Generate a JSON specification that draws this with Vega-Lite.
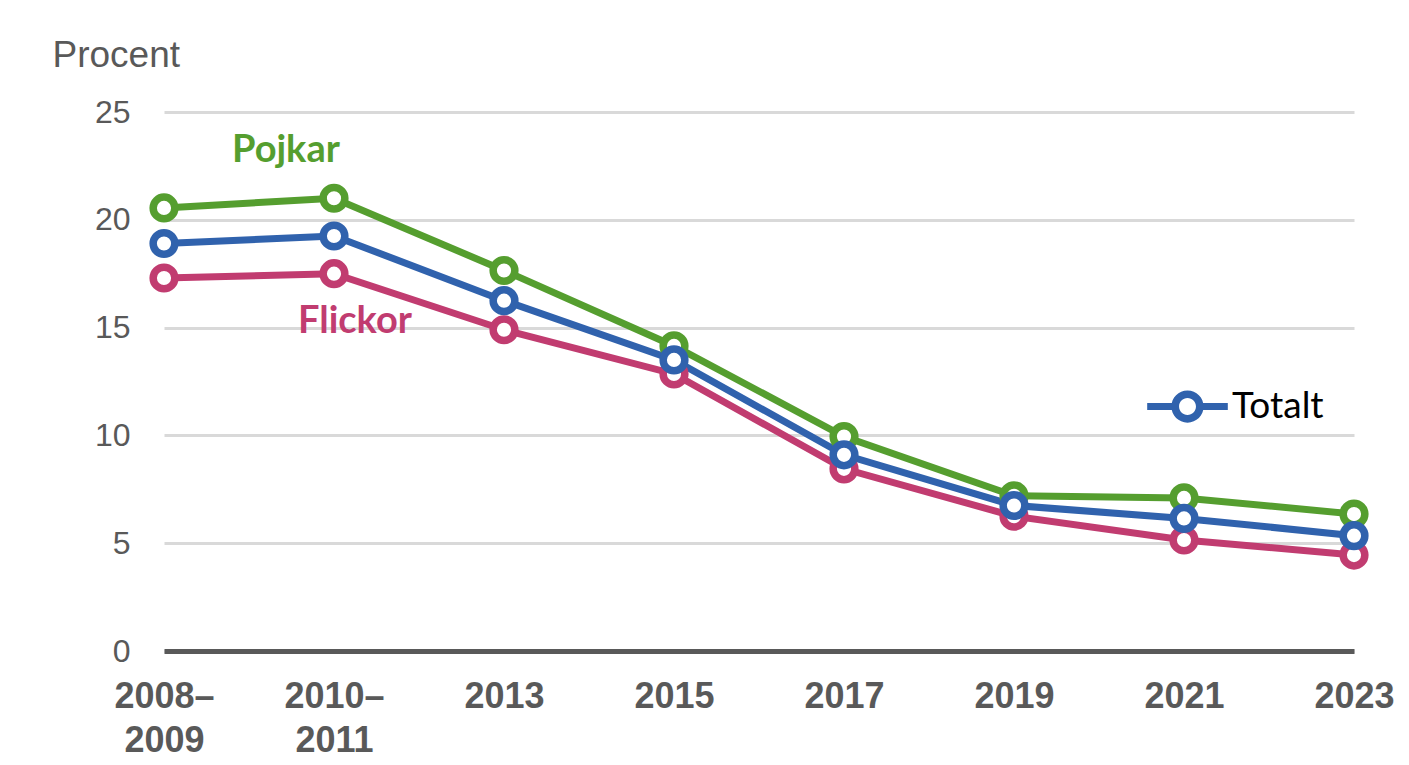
{
  "$schema": "https://vega.github.io/schema/vega-lite/v6.json",
  "autosize": "none",
  "width": 1190,
  "height": 539,
  "padding": {"left": 164, "top": 112, "right": 55, "bottom": 114},
  "background": "white",
  "config": {
    "view": {"stroke": null},
    "font": "Liberation Sans"
  },
  "datasets": {
    "main": [
      {"period": "2008–2009", "serie": "Flickor", "value": 17.3},
      {"period": "2010–2011", "serie": "Flickor", "value": 17.5},
      {"period": "2013", "serie": "Flickor", "value": 14.9},
      {"period": "2015", "serie": "Flickor", "value": 12.85},
      {"period": "2017", "serie": "Flickor", "value": 8.45},
      {"period": "2019", "serie": "Flickor", "value": 6.25},
      {"period": "2021", "serie": "Flickor", "value": 5.15},
      {"period": "2023", "serie": "Flickor", "value": 4.45},
      {"period": "2008–2009", "serie": "Pojkar", "value": 20.55},
      {"period": "2010–2011", "serie": "Pojkar", "value": 21.0},
      {"period": "2013", "serie": "Pojkar", "value": 17.65},
      {"period": "2015", "serie": "Pojkar", "value": 14.15},
      {"period": "2017", "serie": "Pojkar", "value": 9.95},
      {"period": "2019", "serie": "Pojkar", "value": 7.2},
      {"period": "2021", "serie": "Pojkar", "value": 7.1},
      {"period": "2023", "serie": "Pojkar", "value": 6.35},
      {"period": "2008–2009", "serie": "Totalt", "value": 18.9},
      {"period": "2010–2011", "serie": "Totalt", "value": 19.25},
      {"period": "2013", "serie": "Totalt", "value": 16.25},
      {"period": "2015", "serie": "Totalt", "value": 13.5},
      {"period": "2017", "serie": "Totalt", "value": 9.1},
      {"period": "2019", "serie": "Totalt", "value": 6.75},
      {"period": "2021", "serie": "Totalt", "value": 6.15},
      {"period": "2023", "serie": "Totalt", "value": 5.35}
    ]
  },
  "encoding": {
    "x": {
      "field": "period",
      "type": "ordinal",
      "sort": null,
      "scale": {"type": "point", "padding": 0},
      "axis": {
        "title": null,
        "ticks": false,
        "grid": false,
        "domainColor": "#595959",
        "domainWidth": 5,
        "labelAngle": 0,
        "labelFontSize": 36,
        "labelFontWeight": "bold",
        "labelColor": "#595959",
        "labelPadding": 28,
        "labelLineHeight": 44,
        "labelBaseline": "top",
        "labelExpr": "indexof(datum.label,'–') > 0 ? [slice(datum.label,0,5), slice(datum.label,5)] : datum.label",
        "zindex": 1
      }
    },
    "y": {
      "field": "value",
      "type": "quantitative",
      "scale": {"domain": [0, 25], "nice": false},
      "axis": {
        "values": [0, 5, 10, 15, 20, 25],
        "domain": false,
        "ticks": false,
        "grid": true,
        "gridColor": "#d9d9d9",
        "gridWidth": 3,
        "labelFontSize": 32,
        "labelColor": "#595959",
        "labelPadding": 34,
        "title": "Procent",
        "titleAngle": 0,
        "titleAlign": "left",
        "titleBaseline": "alphabetic",
        "titleX": -112,
        "titleY": -46,
        "titleFontSize": 37,
        "titleFontWeight": "normal",
        "titleColor": "#595959"
      }
    },
    "color": {
      "field": "serie",
      "type": "nominal",
      "scale": {"domain": ["Pojkar", "Flickor", "Totalt"], "range": ["#559E2F", "#C13C70", "#3062AD"]},
      "legend": {
        "values": ["Totalt"],
        "title": null,
        "orient": "none",
        "legendX": 983,
        "legendY": 254,
        "symbolType": "M-1,-0.087H-0.36V0.087H-1ZM0.36,-0.087H1V0.087H0.36ZM0.4,0A0.4,0.4 0 1,1 -0.4,0A0.4,0.4 0 1,1 0.4,0ZM0.21,0A0.21,0.21 0 1,0 -0.21,0A0.21,0.21 0 1,0 0.21,0Z",
        "symbolSize": 6500,
        "symbolStrokeWidth": 0,
        "labelFont": "Lato",
        "labelFontSize": 37,
        "labelColor": "#000000",
        "labelOffset": 4
      }
    }
  },
  "layer": [
    {
      "data": {"name": "main"},
      "mark": {"type": "line", "strokeWidth": 7}
    },
    {
      "data": {"name": "main"},
      "mark": {"type": "point", "filled": false, "fill": "white", "fillOpacity": 1, "size": 470, "strokeWidth": 7.5, "opacity": 1}
    },
    {
      "data": {"values": [{"period": "2008–2009", "serie": "Pojkar", "value": 23.2, "label": "Pojkar"}]},
      "mark": {"type": "text", "align": "left", "baseline": "middle", "font": "Lato", "fontWeight": "bold", "fontSize": 38, "dx": 68},
      "encoding": {"text": {"field": "label"}}
    },
    {
      "data": {"values": [{"period": "2008–2009", "serie": "Flickor", "value": 15.25, "label": "Flickor"}]},
      "mark": {"type": "text", "align": "left", "baseline": "middle", "font": "Lato", "fontWeight": "bold", "fontSize": 38, "dx": 134},
      "encoding": {"text": {"field": "label"}}
    }
  ]
}
